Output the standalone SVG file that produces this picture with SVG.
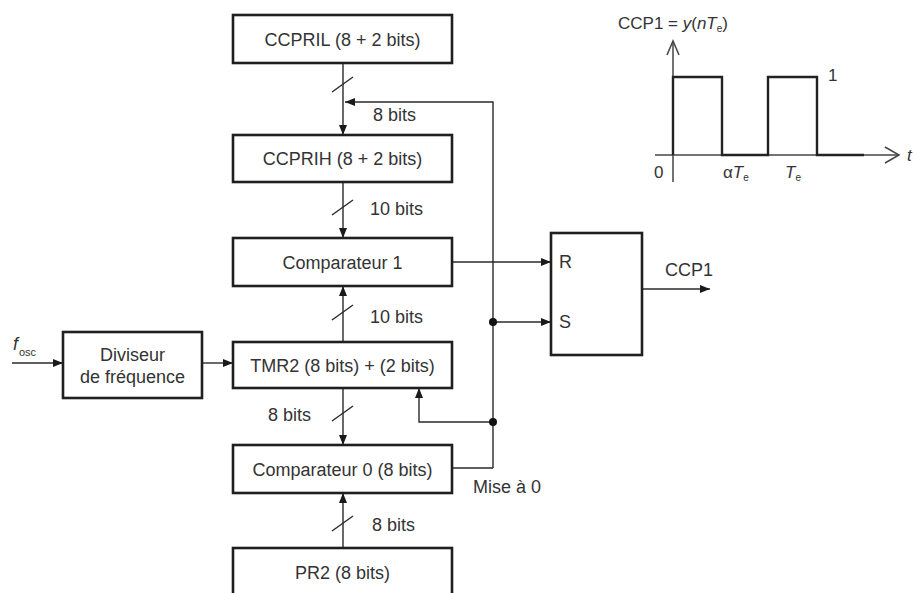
<svg xmlns="http://www.w3.org/2000/svg" width="913" height="593" viewBox="0 0 913 593">
<defs>
<marker id="ah" viewBox="0 0 10 8" refX="10" refY="4" markerWidth="10" markerHeight="8" markerUnits="userSpaceOnUse" orient="auto">
<path d="M0,0 L10,4 L0,8 Z" fill="#1a1a1a"/>
</marker>
<style>
.box{fill:#fff;stroke:#1f1f1f;stroke-width:2.6}
.ln{fill:none;stroke:#2a2a2a;stroke-width:1.4}
.sl{stroke:#2a2a2a;stroke-width:1.4}
.t{font-family:"Liberation Sans",Arial,sans-serif;font-size:18px;fill:#333}
.w{font-size:17px}
.c{text-anchor:middle}
.i{font-style:italic}
.sub{font-size:10px;font-style:normal}
.ax{fill:none;stroke:#444;stroke-width:1.5}
.pl{fill:none;stroke:#222;stroke-width:2.4}
</style>
</defs>
<rect width="913" height="593" fill="#fff"/>

<g id="connectors">
<path class="ln" d="M343,63 V135" marker-end="url(#ah)"/>
<path class="ln" d="M493,468 H452"/>
<path class="ln" d="M493,468 V102 H345" marker-end="url(#ah)"/>
<path class="ln" d="M343,182 V238" marker-end="url(#ah)"/>
<path class="ln" d="M343,342 V286" marker-end="url(#ah)"/>
<path class="ln" d="M343,388 V445" marker-end="url(#ah)"/>
<path class="ln" d="M343,548 V493" marker-end="url(#ah)"/>
<path class="ln" d="M452,262 H551" marker-end="url(#ah)"/>
<path class="ln" d="M493,322 H551" marker-end="url(#ah)"/>
<path class="ln" d="M493,422 H419 V388" marker-end="url(#ah)"/>
<path class="ln" d="M642,289 H710" marker-end="url(#ah)"/>
<path class="ln" d="M12,363 H63" marker-end="url(#ah)"/>
<path class="ln" d="M202,363 H233" marker-end="url(#ah)"/>
<circle cx="493" cy="322" r="4" fill="#111"/>
<circle cx="493" cy="422" r="4" fill="#111"/>
<line class="sl" x1="332" y1="92" x2="353" y2="77"/>
<line class="sl" x1="332" y1="215" x2="353" y2="200"/>
<line class="sl" x1="332" y1="320" x2="353" y2="305"/>
<line class="sl" x1="332" y1="421" x2="353" y2="406"/>
<line class="sl" x1="332" y1="531" x2="353" y2="516"/>
<text class="t" x="373" y="121">8 bits</text>
<text class="t" x="370" y="215">10 bits</text>
<text class="t" x="370" y="323">10 bits</text>
<text class="t" x="268" y="421">8 bits</text>
<text class="t" x="372" y="531">8 bits</text>
<text class="t" x="473" y="493">Mise à 0</text>
<text class="t" x="665" y="276">CCP1</text>
<text class="t i" x="13" y="350">f</text>
<text class="t" x="19" y="356" style="font-size:11px">osc</text>
</g>

<g id="ccpril">
<rect class="box" x="233" y="15" width="219" height="48"/>
<text class="t c" x="342.5" y="45.5">CCPRIL (8 + 2 bits)</text>
</g>
<g id="ccprih">
<rect class="box" x="233" y="135" width="219" height="47"/>
<text class="t c" x="342.5" y="165">CCPRIH (8 + 2 bits)</text>
</g>
<g id="comparateur1">
<rect class="box" x="233" y="238" width="219" height="48"/>
<text class="t c" x="342.5" y="268.5">Comparateur 1</text>
</g>
<g id="tmr2">
<rect class="box" x="233" y="342" width="219" height="46"/>
<text class="t c" x="342.5" y="371.5">TMR2 (8 bits) + (2 bits)</text>
</g>
<g id="comparateur0">
<rect class="box" x="233" y="445" width="219" height="48"/>
<text class="t c" x="342.5" y="475.5">Comparateur 0 (8 bits)</text>
</g>
<g id="pr2">
<rect class="box" x="233" y="548" width="219" height="60"/>
<text class="t c" x="342.5" y="579">PR2 (8 bits)</text>
</g>
<g id="diviseur">
<rect class="box" x="63" y="332" width="139" height="66"/>
<text class="t c" x="132.5" y="361">Diviseur</text>
<text class="t c" x="132.5" y="383">de fréquence</text>
</g>
<g id="rs">
<rect class="box" x="551" y="233" width="91" height="122"/>
<text class="t" x="559" y="268">R</text>
<text class="t" x="559" y="328">S</text>
</g>

<g id="waveform">
<path class="ax" d="M673,182 V41"/>
<path class="ax" d="M667,55 L673,41 L679,55"/>
<path class="ax" d="M655,155 H899"/>
<path class="ax" d="M885,147 L899,155 L885,163"/>
<path class="pl" d="M673,155 V77 H722 V155 H768 V77 H817 V155 H864"/>
<text class="t w" x="618" y="29">CCP1 = <tspan class="i">y</tspan>(<tspan class="i">nT</tspan><tspan class="sub" dy="3">e</tspan><tspan dy="-3">)</tspan></text>
<text class="t w" x="828" y="81">1</text>
<text class="t w" x="654" y="178">0</text>
<text class="t w" x="723" y="178">α<tspan class="i">T</tspan><tspan class="sub" dy="3">e</tspan></text>
<text class="t w i" x="785" y="178">T<tspan class="sub" dy="3">e</tspan></text>
<text class="t w i" x="907" y="161">t</text>
</g>
</svg>
